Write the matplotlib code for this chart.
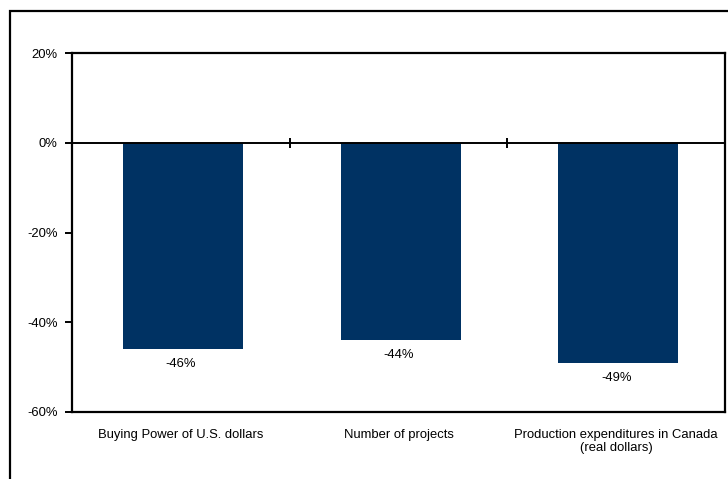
import numpy as np
import matplotlib
matplotlib.use("Agg")
import matplotlib.pyplot as plt
from matplotlib.patches import Rectangle

categories = ["Buying Power of U.S. dollars", "Number of projects",
              "Production expenditures in Canada\n(real dollars)"]
changes = [-46, -44, -49]
yticks = [20, 0, -20, -40, -60]

NAVY = "#003263"

plt.rcParams.update({
    "font.family": ["Liberation Sans", "DejaVu Sans"],
    "font.size": 9.4,
})

fig = plt.figure(figsize=(7.28, 4.79), dpi=100)
ax = fig.add_axes([72 / 728, 1 - 412 / 479, (725 - 72) / 728, (412 - 53) / 479])

x = np.arange(len(categories))
ax.bar(x + 0.01, changes, width=0.55, color=NAVY, zorder=2)
for xi, v in zip(x, changes):
    ax.annotate(f"{v}%", (xi, v), textcoords="offset points", xytext=(0, -6.5),
                ha="center", va="top")

ax.set_xlim(-0.5, len(categories) - 0.5)
ax.set_ylim(-60, 20)
ax.set_yticks(yticks)
ax.set_yticklabels([f"{t}%" for t in yticks])
ax.set_xticks(x)
ax.set_xticklabels(categories, va="top")
ax.tick_params(axis="x", length=0, pad=12)
ax.tick_params(axis="y", length=5, width=1.4, pad=5.5)

# zero line with category separators crossing it
ax.axhline(0, color="black", lw=1.4, zorder=3)
bounds = x[:-1] + 0.5
ax.vlines(bounds, -1.1, 1.1, color="black", lw=1.4, zorder=3)

for s in ax.spines.values():
    s.set_linewidth(1.6)

# outer chart frame, running off the right and bottom edges
fig.patches.append(Rectangle((10 / 728, -0.1), 1.0, 1 - 11 / 479 + 0.1,
                             transform=fig.transFigure, fill=False,
                             ec="black", lw=1.6))

fig.savefig("out.png", dpi=100)
